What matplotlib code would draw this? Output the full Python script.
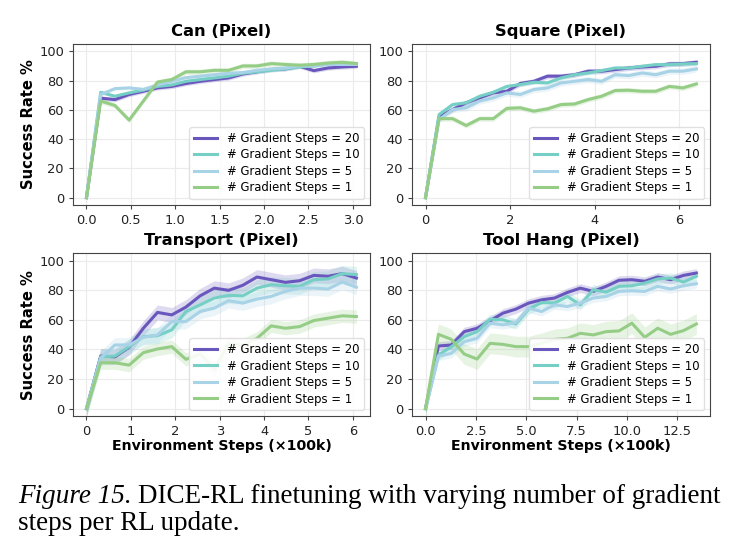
import numpy as np
import matplotlib.pyplot as plt

# series order: 20, 10, 5, 1 gradient steps
labels = ["# Gradient Steps = 20", "# Gradient Steps = 10",
          "# Gradient Steps = 5", "# Gradient Steps = 1"]
colors = ["#6a57bd", "#76cfc5", "#a8d2e6", "#96cd86"]

# Can (Pixel)
can_x = [0.0, 0.16, 0.32, 0.48, 0.64, 0.8, 0.96, 1.12, 1.28, 1.44, 1.6, 1.76,
         1.92, 2.08, 2.24, 2.4, 2.56, 2.72, 2.88, 3.04]
can_20 = [0, 68, 67, 70.5, 72.7, 75, 76, 78, 79.5, 80.7, 81.8, 84.5, 86, 87.5, 88, 89.8, 86.8, 88.6, 89.3, 89.8]
can_10 = [0, 72, 69.3, 71.6, 73.5, 76, 77, 79.5, 80.7, 81.8, 83, 85, 86, 87, 88, 89.3, 90, 91.6, 92, 91.6]
can_5 = [0, 70.5, 74.5, 75, 74, 77, 79.5, 82, 83, 84, 85, 85.5, 87, 88, 88.6, 90, 90, 91, 91, 91]
can_1 = [0, 66, 63, 53, 66, 79, 80.7, 86, 86, 87, 87, 90, 90, 91.6, 91, 90.5, 91, 92, 92.5, 91.6]
can_band = [1.5, 1.2, 1.2, 1.8]

# Square (Pixel)
square_x = [0.0, 0.32, 0.64, 0.96, 1.28, 1.6, 1.92, 2.24, 2.56, 2.88, 3.2, 3.52,
            3.84, 4.16, 4.48, 4.8, 5.12, 5.44, 5.76, 6.08, 6.4]
square_20 = [0, 55.2, 60.2, 64.8, 68.2, 71.6, 72.7, 78, 79.5, 83, 83, 84, 86.4, 86.4, 87.5, 88.6, 89.3, 89.8, 91.4, 91.6, 92.5]
square_10 = [0, 56.8, 63.6, 64.8, 69.3, 72, 76, 77.3, 78.9, 78.4, 81.8, 84, 85.2, 86.8, 88.6, 88.6, 89.8, 90.9, 90.9, 91.4, 91.6]
square_5 = [0, 53.4, 60.2, 61.4, 66, 68.2, 71.6, 70.5, 73.9, 75, 78.4, 79.5, 80.7, 79.5, 84, 83.4, 85.2, 84, 86.4, 86.4, 88]
square_1 = [0, 54, 54, 49.3, 54, 54, 61, 61.4, 59.1, 60.7, 63.6, 64, 67, 69.3, 73.2, 73.4, 72.7, 72.7, 76, 75, 77.7]
square_band = [1.8, 1.5, 2.2, 1.8]

# Transport (Pixel)
transport_x = [0.0, 0.32, 0.64, 0.96, 1.28, 1.6, 1.92, 2.24, 2.56, 2.88, 3.2, 3.52,
               3.84, 4.16, 4.48, 4.8, 5.12, 5.44, 5.76, 6.08]
transport_20 = [0, 35.5, 35, 41.4, 54.3, 65, 63.3, 68.6, 76.2, 81.4, 79.9, 83.3, 88.9, 87.1, 85.3, 86.4, 90, 89.4, 91.2, 88.2]
transport_10 = [0, 35, 35.5, 41.8, 48.6, 49.3, 53.2, 65.6, 70.1, 74.7, 76.5, 76.2, 81.4, 83.7, 83, 82.6, 87.1, 87.6, 91.2, 90.5]
transport_5 = [0, 34, 43, 43, 48.2, 49.8, 58.8, 58.8, 65.6, 67.9, 72.9, 71.3, 74, 75.8, 79.2, 81.4, 81.4, 80.8, 85.5, 82]
transport_1 = [0, 31, 31, 29.4, 37.8, 40.3, 41.9, 33.3, 36.9, 26.5, 43.7, 43, 47.5, 55.9, 54.3, 55.4, 59.5, 61.1, 62.7, 62.2]
transport_band = [5, 5.5, 5, 4.5]

# Tool Hang (Pixel)
toolhang_x = [0.0, 0.64, 1.28, 1.92, 2.56, 3.2, 3.84, 4.48, 5.12, 5.76, 6.4, 7.04,
              7.68, 8.32, 8.96, 9.6, 10.24, 10.88, 11.52, 12.16, 12.8, 13.44]
toolhang_20 = [0, 42.3, 43, 52, 54.3, 59.3, 64.5, 67.2, 71.3, 73.5, 74.7, 78.5, 81.4, 79.2, 82.6, 86.7, 87.1, 86, 88.9, 87.1, 90, 91.6]
toolhang_10 = [0, 36.2, 41.8, 48.6, 52, 60.4, 60, 57.2, 67.2, 71.7, 71.3, 75.8, 70.1, 80.3, 78.7, 82.6, 83, 84.8, 87.6, 88.2, 85.5, 89.4]
toolhang_5 = [0, 35.5, 37.3, 45.2, 47.5, 57.7, 56.6, 58.1, 67.9, 65.6, 70.1, 69, 71.3, 74.7, 75.8, 79.2, 79.6, 79.2, 82.6, 80.8, 83, 84.4]
toolhang_1 = [0, 50.2, 46.8, 36.9, 33.5, 44.1, 43.4, 41.9, 41.9, 44.1, 46.8, 47.5, 50.9, 49.8, 52, 52.5, 57.7, 48.2, 54.3, 50.2, 52.7, 57.2]
toolhang_band = [3, 3.5, 3, 7]

panels = [
    ("Can (Pixel)", can_x, [can_20, can_10, can_5, can_1], can_band, np.arange(0, 3.01, 0.5), "{:.1f}"),
    ("Square (Pixel)", square_x, [square_20, square_10, square_5, square_1], square_band, [0, 2, 4, 6], "{:.0f}"),
    ("Transport (Pixel)", transport_x, [transport_20, transport_10, transport_5, transport_1], transport_band, [0, 1, 2, 3, 4, 5, 6], "{:.0f}"),
    ("Tool Hang (Pixel)", toolhang_x, [toolhang_20, toolhang_10, toolhang_5, toolhang_1], toolhang_band, np.arange(0, 12.6, 2.5), "{:.1f}"),
]

fig = plt.figure(figsize=(7.35, 5.54), dpi=100)
pos = [[0.0993, 0.630, 0.404, 0.2906],
       [0.5605, 0.630, 0.4054, 0.2906],
       [0.0993, 0.249, 0.404, 0.294],
       [0.5605, 0.249, 0.4054, 0.294]]

for k, (title, x, ys, band, xt, fmt) in enumerate(panels):
    ax = fig.add_axes(pos[k])
    for y, c, lab, b in zip(ys, colors, labels, band):
        y = np.array(y, dtype=float)
        ax.fill_between(x, y - b, y + b, color=c, alpha=0.22, lw=0)
        ax.plot(x, y, color=c, lw=2.2, label=lab)
    ax.set_ylim(-5, 105)
    ax.set_yticks([0, 20, 40, 60, 80, 100])
    ax.set_xticks(xt)
    ax.set_xticklabels([fmt.format(t) for t in xt])
    ax.grid(True, color="#ebebeb", lw=0.8)
    ax.set_axisbelow(True)
    ax.tick_params(labelsize=9.4, length=3, color="#444444", labelcolor="#222222")
    for s in ax.spines.values():
        s.set_color("#444444")
    ax.set_title(title, fontsize=11.8, fontweight="bold", pad=6)
    if k % 2 == 0:
        ax.set_ylabel("Success Rate %", fontsize=10.6, fontweight="bold", labelpad=2.5)
    if k >= 2:
        ax.set_xlabel("Environment Steps (\u00d7100k)", fontsize=10.2, fontweight="bold", labelpad=1)
    ax.legend(loc="lower right", fontsize=8.4, labelspacing=0.3, handlelength=2.0,
              framealpha=0.9, edgecolor="#dddddd", fancybox=True)

# caption
cap_size = 19.5
t1 = fig.text(18 / 735, 0.092, "Figure 15.", fontsize=cap_size, family="Liberation Serif", style="italic")
r = fig.canvas.get_renderer()
w1 = t1.get_window_extent(r).width
fig.text((18 + w1 + 6) / 735, 0.092, "DICE-RL finetuning with varying number of gradient",
         fontsize=cap_size, family="Liberation Serif")
fig.text(18 / 735, 0.043, "steps per RL update.", fontsize=cap_size, family="Liberation Serif")

fig.savefig("out.png", dpi=100)
